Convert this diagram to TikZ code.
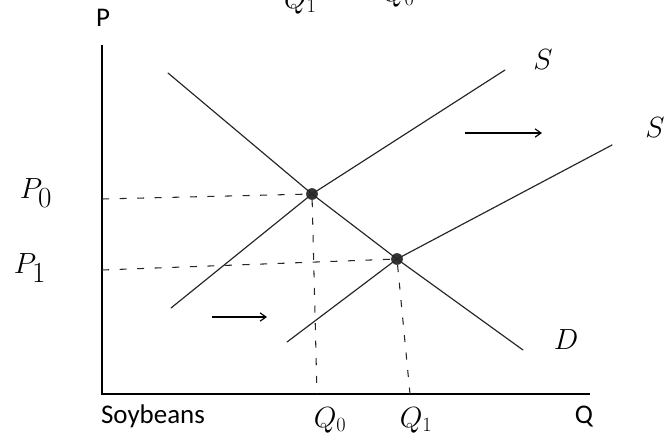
\documentclass[tikz,border=0pt]{standalone}
\usepackage{fontspec}
\setmainfont{Carlito}
\usetikzlibrary{arrows.meta,positioning}
\tikzset{
  axis/.style={line width=1.6pt, draw=black},
  curve/.style={line width=1pt, draw=black!85, line cap=round},
  guide/.style={dash pattern=on 6pt off 9pt, line width=0.9pt, draw=black!85},
  eqdot/.style={circle, fill=black!80, inner sep=0pt, minimum size=10pt},
  shiftarrow/.style={-{Straight Barb[length=5pt,width=7pt]}, line width=1pt},
  axlabel/.style={font=\fontsize{23}{27}\selectfont},
  hand/.style={font=\fontsize{34}{38}\selectfont},
  handsmall/.style={font=\fontsize{26}{30}\selectfont}
}

\begin{document}
\begin{tikzpicture}[x=0.03cm, y=-0.03cm]
  \useasboundingbox (0,0) rectangle (665,438);

  % axes
  \coordinate (O) at (102,394);
  \coordinate (Ptop) at (102,45);
  \coordinate (Qend) at (590,394);
  \draw[axis] (Ptop) -- (O) -- (Qend);
  \node[axlabel] (plab) at (103,18) {P};
  \node[axlabel] (qlab) at (584,417) {Q};
  \node[axlabel] (good) at (153,416) {Soybeans};

  % equilibria
  \node[eqdot] (E0) at (312,194) {};
  \node[eqdot] (E1) at (397,259) {};

  % demand and the two supply curves
  \coordinate (Dtop) at (168,73);
  \coordinate (Dbot) at (523,350);
  \coordinate (S0low) at (171,308);
  \coordinate (S0high) at (505,70);
  \coordinate (S1low) at (287,342);
  \coordinate (S1high) at (612,145);
  \draw[curve] (Dtop) -- (E0.center) -- (E1.center) -- (Dbot);
  \draw[curve] (S0low) -- (E0.center) -- (S0high);
  \draw[curve] (S1low) -- (E1.center) -- (S1high);
  \node[hand] (s0lab) at (543,60) {$S$};
  \node[hand] (s1lab) at (655,128) {$S$};
  \node[hand] (dlab) at (566,340) {$D$};

  % price and quantity guides
  \coordinate (P0) at (102,199);
  \coordinate (P1) at (102,270);
  \coordinate (Q0) at (317,394);
  \coordinate (Q1) at (410,394);
  \draw[guide] (P0) -- (E0);
  \draw[guide] (P1) -- (E1);
  \draw[guide] (E0) -- (Q0);
  \draw[guide] (E1) -- (Q1);
  \node[hand] (p0lab) at (36,193) {$P_0$};
  \node[hand] (p1lab) at (30,268) {$P_1$};
  \node[handsmall] (q0lab) at (330,420) {$Q_0$};
  \node[handsmall] (q1lab) at (416,420) {$Q_1$};

  % shift arrows
  \coordinate (a0) at (465,133);
  \coordinate (b0) at (542,133);
  \coordinate (a1) at (212,317);
  \coordinate (b1) at (267,317);
  \draw[shiftarrow] (a0) -- (b0);
  \draw[shiftarrow] (a1) -- (b1);

  % labels cut off at the top
  \node[handsmall, anchor=base west] (topq1) at (280,8) {$Q_1$};
  \node[handsmall, anchor=base west] (topq0) at (378,1) {$Q_0$};
\end{tikzpicture}
\end{document}
